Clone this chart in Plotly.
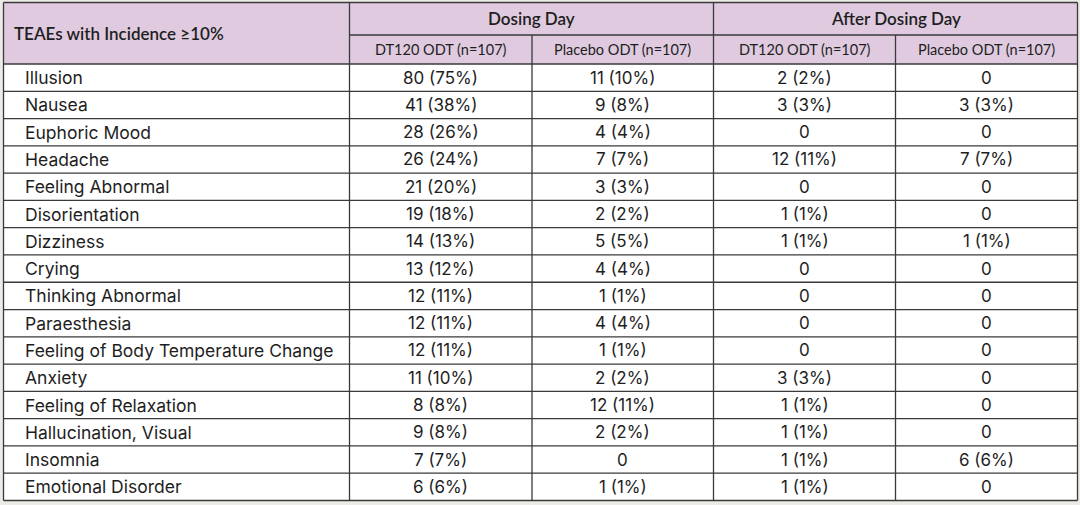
import plotly.graph_objects as go

# --- data ---
terms = ["Illusion", "Nausea", "Euphoric Mood", "Headache", "Feeling Abnormal",
         "Disorientation", "Dizziness", "Crying", "Thinking Abnormal", "Paraesthesia",
         "Feeling of Body Temperature Change", "Anxiety", "Feeling of Relaxation",
         "Hallucination, Visual", "Insomnia", "Emotional Disorder"]

dose_dt120_n = [80, 41, 28, 26, 21, 19, 14, 13, 12, 12, 12, 11, 8, 9, 7, 6]
dose_dt120_pct = [75, 38, 26, 24, 20, 18, 13, 12, 11, 11, 11, 10, 8, 8, 7, 6]
dose_plac_n = [11, 9, 4, 7, 3, 2, 5, 4, 1, 4, 1, 2, 12, 2, 0, 1]
dose_plac_pct = [10, 8, 4, 7, 3, 2, 5, 4, 1, 4, 1, 2, 11, 2, 0, 1]
after_dt120_n = [2, 3, 0, 12, 0, 1, 1, 0, 0, 0, 0, 3, 1, 1, 1, 1]
after_dt120_pct = [2, 3, 0, 11, 0, 1, 1, 0, 0, 0, 0, 3, 1, 1, 1, 1]
after_plac_n = [0, 3, 0, 7, 0, 0, 1, 0, 0, 0, 0, 0, 0, 0, 6, 0]
after_plac_pct = [0, 3, 0, 7, 0, 0, 1, 0, 0, 0, 0, 0, 0, 0, 6, 0]

corner_label = "TEAEs with Incidence ≥10%"
group_labels = ["Dosing Day", "After Dosing Day"]
arm_labels = ["DT120 ODT (n=107)", "Placebo ODT (n=107)",
              "DT120 ODT (n=107)", "Placebo ODT (n=107)"]

# --- layout constants (pixels) ---
W, H = 1080, 505
col_x = [3.5, 349.5, 532, 713.5, 895.5, 1077.5]
top, mid, head_bot, bottom = 2.5, 35, 64, 500.5
row_h = (bottom - head_bot) / len(terms)

BG = "#ecebe6"
HEAD = "#dfcadf"
LINE = "#3a3a3a"
TXT = "#1e1e1e"
BODY_FONT = "Inter"
HEAD_FONT = "Lato"


def fmt(n, p):
    return f"{n} ({p}%)" if n else "0"


columns = [
    [fmt(n, p) for n, p in zip(dose_dt120_n, dose_dt120_pct)],
    [fmt(n, p) for n, p in zip(dose_plac_n, dose_plac_pct)],
    [fmt(n, p) for n, p in zip(after_dt120_n, after_dt120_pct)],
    [fmt(n, p) for n, p in zip(after_plac_n, after_plac_pct)],
]

shapes = []
annotations = []


def line(x0, y0, x1, y1):
    shapes.append(dict(type="line", xref="x", yref="y", x0=x0, y0=y0, x1=x1, y1=y1,
                       line=dict(color=LINE, width=1.3)))


# fills
shapes.append(dict(type="rect", xref="x", yref="y", x0=col_x[0], x1=col_x[-1],
                   y0=top, y1=head_bot, fillcolor=HEAD, line_width=0, layer="below"))
shapes.append(dict(type="rect", xref="x", yref="y", x0=col_x[0], x1=col_x[-1],
                   y0=head_bot, y1=bottom, fillcolor="white", line_width=0, layer="below"))

# grid lines
line(col_x[0], top, col_x[-1], top)
line(col_x[1], mid, col_x[-1], mid)
for i in range(len(terms) + 1):
    y = head_bot + i * row_h
    line(col_x[0], y, col_x[-1], y)
for j, x in enumerate(col_x):
    y0 = mid if j in (2, 4) else top
    line(x, y0, x, bottom)

# header text
annotations.append(dict(x=col_x[0] + 8.5, y=(top + head_bot) / 2, text=corner_label,
                        xanchor="left", yanchor="middle", showarrow=False,
                        font=dict(family=HEAD_FONT, size=17, color=TXT, weight=600)))
for g, lab in enumerate(group_labels):
    annotations.append(dict(x=(col_x[1 + 2 * g] + col_x[3 + 2 * g]) / 2, y=(top + mid) / 2,
                            text=lab, xanchor="center", yanchor="middle", showarrow=False,
                            font=dict(family=HEAD_FONT, size=17, color=TXT, weight=600)))
for k, lab in enumerate(arm_labels):
    annotations.append(dict(x=(col_x[1 + k] + col_x[2 + k]) / 2, y=(mid + head_bot) / 2,
                            text=lab, xanchor="center", yanchor="middle", showarrow=False,
                            font=dict(family=HEAD_FONT, size=14.5, color=TXT)))

# body text
for i, term in enumerate(terms):
    yc = head_bot + (i + 0.5) * row_h
    annotations.append(dict(x=col_x[0] + 19.5, y=yc, text=term, xanchor="left",
                            yanchor="middle", showarrow=False,
                            font=dict(family=BODY_FONT, size=17.5, color=TXT)))
    for k, col in enumerate(columns):
        annotations.append(dict(x=(col_x[1 + k] + col_x[2 + k]) / 2, y=yc, text=col[i],
                                xanchor="center", yanchor="middle", showarrow=False,
                                font=dict(family=BODY_FONT, size=17, color=TXT)))

fig = go.Figure()
fig.update_layout(
    width=W, height=H,
    margin=dict(l=0, r=0, t=0, b=0),
    paper_bgcolor=BG, plot_bgcolor=BG,
    xaxis=dict(range=[0, W], visible=False, fixedrange=True),
    yaxis=dict(range=[H, 0], visible=False, fixedrange=True),
    shapes=shapes, annotations=annotations,
    showlegend=False,
)
fig.write_html("out.html", config={"displayModeBar": False},
               post_script="document.body.style.margin='0';document.body.style.background='%s';" % BG)
